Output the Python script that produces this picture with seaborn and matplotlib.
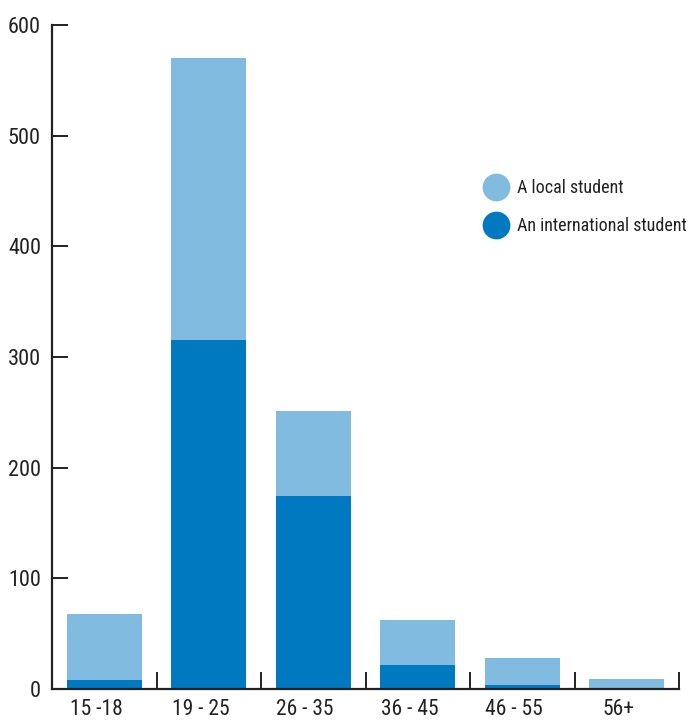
import matplotlib
matplotlib.use("Agg")
import matplotlib.pyplot as plt
import matplotlib.transforms as mtransforms
from matplotlib.lines import Line2D
from matplotlib import font_manager
import seaborn as sns
import pandas as pd

# ---- data ----
age_groups = ["15 -18", "19 - 25", "26 - 35", "36 - 45", "46 - 55", "56+"]
international = [8, 315, 174, 22, 4, 0]
local = [60, 255, 77, 40, 24, 9]
series_labels = ["A local student", "An international student"]
y_ticks = [0, 100, 200, 300, 400, 500, 600]

light = "#81BBE0"
dark = "#0079C1"

sns.set_theme(style="white")
fonts = font_manager.fontManager.ttflist
cond = [f.name for f in fonts if f.stretch in ("condensed", "semi-condensed", "extra-condensed")
        or "Condensed" in f.name or "Narrow" in f.name]
fam = ["DejaVu Sans"]
stretch = "normal"
for pref in ["Liberation Sans Narrow", "Roboto Condensed", "Open Sans Condensed", "DejaVu Sans Condensed"]:
    if pref in cond:
        fam = [pref, "DejaVu Sans"]
        break
else:
    if any(f.name == "DejaVu Sans" and f.stretch == "condensed" for f in fonts):
        stretch = "condensed"
plt.rcParams["font.family"] = fam
plt.rcParams["font.stretch"] = stretch

df = pd.DataFrame({
    "age": age_groups,
    "total": [a + b for a, b in zip(local, international)],
    "international": international,
})

fig = plt.figure(figsize=(6.88, 7.2), dpi=100)
ax = fig.add_axes([52 / 688, 1 - 689 / 720, (679 - 52) / 688, (689 - 25) / 720])

sns.barplot(data=df, x="age", y="total", color=light, width=0.72,
            saturation=1, ax=ax, order=age_groups, linewidth=0)
sns.barplot(data=df, x="age", y="international", color=dark, width=0.72,
            saturation=1, ax=ax, order=age_groups, linewidth=0)

ax.set_xlim(-0.5, 5.5)
ax.set_ylim(0, 600)
ax.set_yticks(y_ticks)
ax.set_xlabel("")
ax.set_ylabel("")

for s in ["top", "right"]:
    ax.spines[s].set_visible(False)
for s in ["left", "bottom"]:
    ax.spines[s].set_color("#222222")
    ax.spines[s].set_linewidth(1.6)

ax.tick_params(axis="y", direction="in", length=11.5, width=1.4, color="#222222",
               labelsize=16, pad=8, labelcolor="#222222", left=True)
ax.tick_params(axis="x", which="major", length=0, labelsize=15.5, pad=7,
               labelcolor="#222222")
ax.set_xticks([i + 0.5 for i in range(-1, 6)], minor=True)
ax.tick_params(axis="x", which="minor", direction="in", length=12.5, width=1.4,
               color="#222222", bottom=True)

shift = mtransforms.ScaledTranslation(-8 / 100, 0, fig.dpi_scale_trans)
for lab in ax.get_xticklabels():
    lab.set_transform(lab.get_transform() + shift)

handles = [
    Line2D([], [], linestyle="none", marker="o", markersize=20,
           markerfacecolor=light, markeredgecolor="none"),
    Line2D([], [], linestyle="none", marker="o", markersize=20,
           markerfacecolor=dark, markeredgecolor="none"),
]
leg = fig.legend(handles, series_labels, loc="upper left",
                 bbox_to_anchor=(484 / 688, 1 - 179 / 720), frameon=False,
                 fontsize=13, handlelength=1.3, handletextpad=0.55,
                 labelspacing=1.1, borderaxespad=0, borderpad=0)
for t in leg.get_texts():
    t.set_color("#222222")

fig.savefig("out.png", dpi=100)
